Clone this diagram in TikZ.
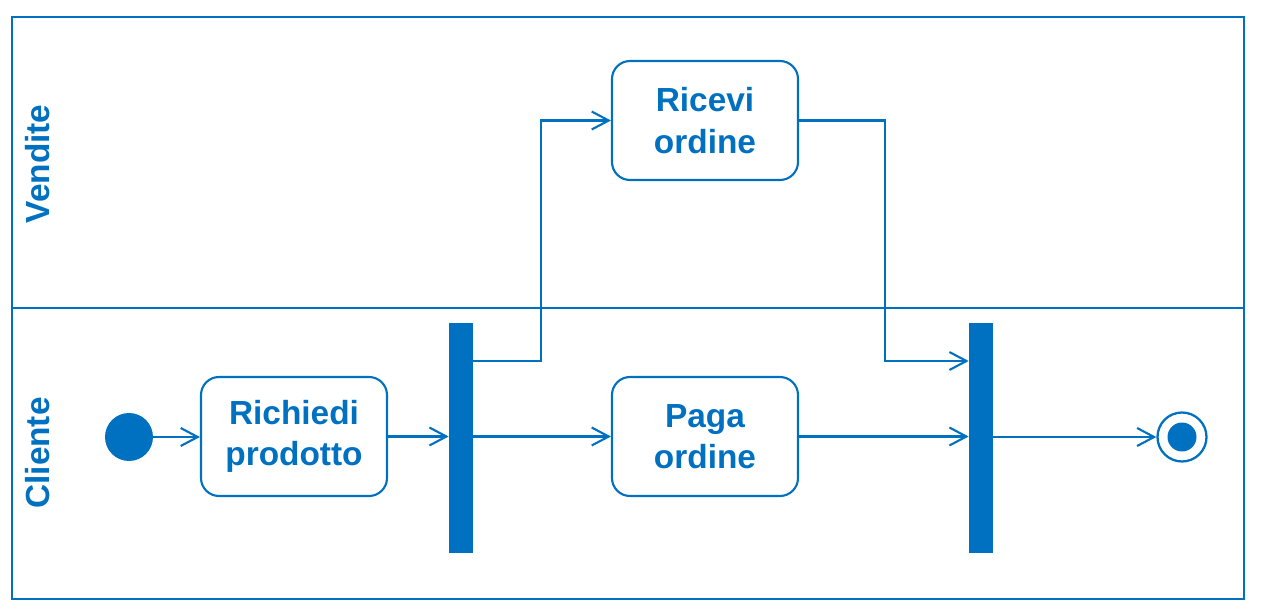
\documentclass[tikz,border=0pt]{standalone}
\usepackage{fontspec}
\setmainfont{Liberation Sans}
\usetikzlibrary{arrows.meta}
\definecolor{umlblue}{HTML}{0070C0}

\begin{document}
\begin{tikzpicture}[scale=1.0,
  lane/.style={font=\fontsize{19}{23}\selectfont\bfseries, text=umlblue, rotate=90},
  action/.style={draw=umlblue, line width=1.2pt, rounded corners=0.36cm, minimum width=3.72cm,
    minimum height=2.38cm, align=center, text=umlblue, font=\fontsize{19}{23.5}\selectfont\bfseries},
  bar/.style={fill=umlblue, minimum width=0.48cm, minimum height=4.6cm, inner sep=0pt},
  arr/.style={draw=umlblue, line width=1.2pt, -{Straight Barb[length=0.34cm, width=0.36cm]}}]
  \useasboundingbox (0,0) rectangle (25.28,12.26);
  % swimlanes
  \draw[umlblue, line width=1.2pt] (0.24,0.28) rectangle (24.88,11.92);
  \draw[umlblue, line width=1.2pt] (0.24,6.10) -- (24.88,6.10);
  \node[lane] (vendite) at (0.76,8.98) {Vendite};
  \node[lane] (cliente) at (0.76,3.20) {Cliente};
  % nodes
  \node[circle, fill=umlblue, minimum size=0.96cm, inner sep=0pt] (start) at (2.58,3.52) {};
  \node[action] (richiedi) at (5.88,3.53) {Richiedi\\prodotto};
  \node[bar] (fork) at (9.22,3.50) {};
  \node[action] (paga) at (14.10,3.53) {Paga\\ordine};
  \node[action] (ricevi) at (14.10,9.85) {Ricevi\\ordine};
  \node[bar] (join) at (19.62,3.50) {};
  \node[circle, draw=umlblue, line width=1.3pt, minimum size=0.98cm, inner sep=0pt] (stop) at (23.64,3.52) {};
  \node[circle, fill=umlblue, minimum size=0.58cm, inner sep=0pt] (stopin) at (stop) {};
  % flows
  \draw[arr] (start) -- (start -| richiedi.west);
  \draw[arr] (richiedi.east) -- (richiedi.east -| fork.west);
  \draw[arr] (paga.west -| fork.east) -- (paga.west);
  \draw[arr] ([yshift=1.54cm]fork.east) -- ++(1.36,0) |- (ricevi.west);
  \draw[arr] (ricevi.east) -- ++(1.72,0) |- ([yshift=1.54cm]join.west);
  \draw[arr] (paga.east) -- (paga.east -| join.west);
  \draw[arr] (join.east |- stop) -- (stop.west);
\end{tikzpicture}
\end{document}
